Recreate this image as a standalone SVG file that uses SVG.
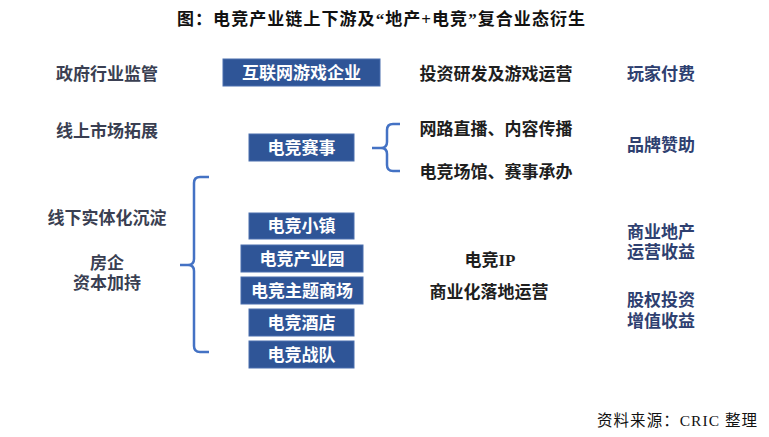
<svg xmlns="http://www.w3.org/2000/svg" width="769" height="437" viewBox="0 0 769 437">
<style>
text{font-family:"Liberation Serif","Noto Sans CJK SC",serif;font-weight:bold;font-size:17px;text-anchor:middle}
.box{fill:#2f5597;stroke:#4a6fae;stroke-width:1}
.bt{fill:#ffffff}
.lt{fill:#3a3f52}
.mt{fill:#1e1e1e}
.rt{fill:#2e4070}
.brace{fill:none;stroke:#4472c4;stroke-width:2.5}
</style>
<rect width="769" height="437" fill="#ffffff"/>
<text id="title" x="177" y="25" fill="#111" style="font-size:17px;text-anchor:start" textLength="408" lengthAdjust="spacing">图：电竞产业链上下游及“地产+电竞”复合业态衍生</text>

<g id="labels-left">
<text class="lt" x="107" y="80">政府行业监管</text>
<text class="lt" x="107" y="137">线上市场拓展</text>
<text class="lt" x="107" y="224">线下实体化沉淀</text>
<text class="lt" x="107" y="269">房企</text>
<text class="lt" x="107" y="289">资本加持</text>
</g>

<g id="n-internet"><rect class="box" x="223" y="59" width="157" height="27"/><text class="bt" x="301.5" y="78.5">互联网游戏企业</text></g>
<g id="n-event"><rect class="box" x="249" y="134" width="105" height="27"/><text class="bt" x="301.5" y="153.5">电竞赛事</text></g>
<g id="n-town"><rect class="box" x="249" y="213" width="105" height="26"/><text class="bt" x="301.5" y="232">电竞小镇</text></g>
<g id="n-park"><rect class="box" x="241" y="245" width="122" height="27"/><text class="bt" x="302" y="264.5">电竞产业园</text></g>
<g id="n-mall"><rect class="box" x="241" y="277" width="122" height="27"/><text class="bt" x="302" y="296.5">电竞主题商场</text></g>
<g id="n-hotel"><rect class="box" x="249" y="309" width="105" height="27"/><text class="bt" x="301.5" y="328.5">电竞酒店</text></g>
<g id="n-team"><rect class="box" x="249" y="341" width="105" height="27"/><text class="bt" x="301.5" y="360.5">电竞战队</text></g>

<g id="connectors">
<path class="brace" d="M372,148 H381 Q387,148 387,142 V130 Q387,124 393,124 H400 M387,154 V165 Q387,171 393,171 H400 M381,148 Q387,148 387,154"/>
<path class="brace" d="M180,265 H188 Q194,265 194,259 V183 Q194,177 200,177 H209 M188,265 Q194,265 194,271 V346 Q194,352 200,352 H209"/>
</g>

<g id="labels-mid">
<text class="mt" x="496" y="80">投资研发及游戏运营</text>
<text class="mt" x="496" y="135">网路直播、内容传播</text>
<text class="mt" x="496" y="178">电竞场馆、赛事承办</text>
<text class="mt" x="490" y="266">电竞IP</text>
<text class="mt" x="489" y="298">商业化落地运营</text>
</g>

<g id="labels-right">
<text class="rt" x="661" y="80">玩家付费</text>
<text class="rt" x="661" y="151">品牌赞助</text>
<text class="rt" x="661" y="238">商业地产</text>
<text class="rt" x="661" y="258">运营收益</text>
<text class="rt" x="661" y="306">股权投资</text>
<text class="rt" x="661" y="327">增值收益</text>
</g>

<text id="source" x="597" y="426" fill="#111" style="font-weight:normal;font-size:15.5px;text-anchor:start" textLength="160" lengthAdjust="spacing">资料来源：CRIC 整理</text>
</svg>
